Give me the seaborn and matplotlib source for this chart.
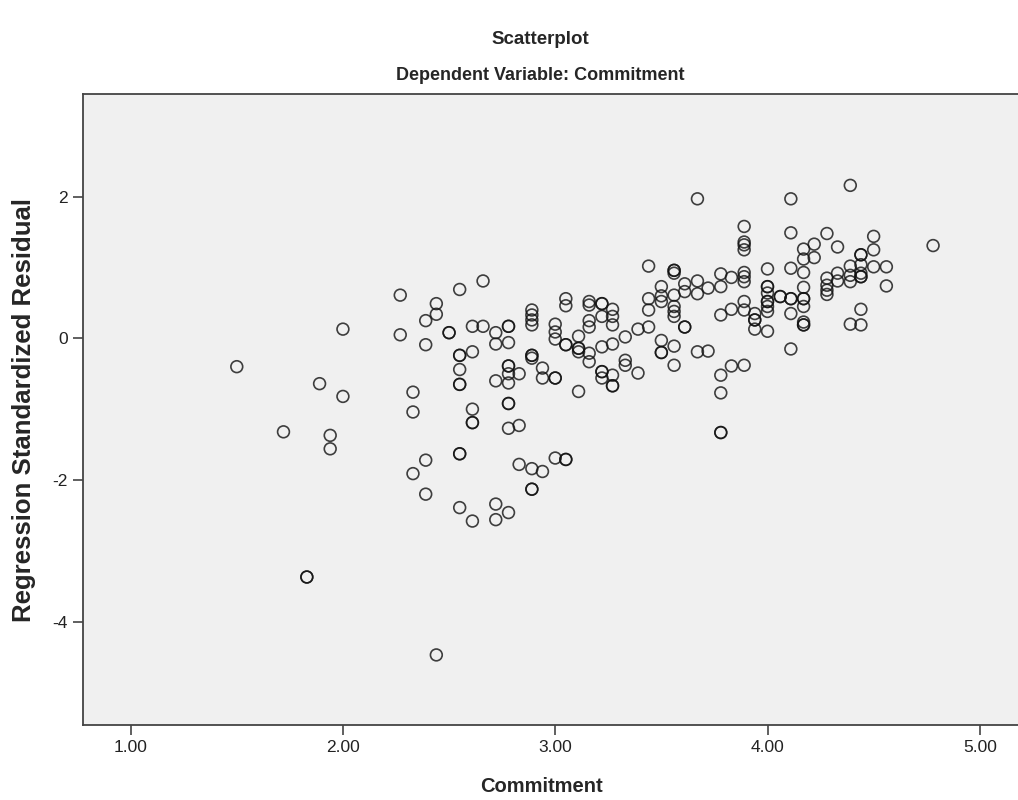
import pandas as pd
import matplotlib
matplotlib.use("Agg")
import matplotlib.pyplot as plt
import seaborn as sns

# Commitment scores (x) and regression standardized residuals (y)
commitment = [
    1.50, 1.72, 1.83, 1.83, 1.89, 1.94, 1.94, 2.00, 2.00,
    2.27, 2.27, 2.33, 2.33, 2.33, 2.39, 2.39, 2.39, 2.39,
    2.44, 2.44, 2.44, 2.50, 2.50,
    2.55, 2.55, 2.55, 2.55, 2.55, 2.55, 2.55, 2.55, 2.55,
    2.61, 2.61, 2.61, 2.61, 2.61, 2.61, 2.66, 2.66,
    2.72, 2.72, 2.72, 2.72, 2.72,
    2.78, 2.78, 2.78, 2.78, 2.78, 2.78, 2.78, 2.78, 2.78, 2.78, 2.78,
    2.83, 2.83, 2.83,
    2.89, 2.89, 2.89, 2.89, 2.89, 2.89, 2.89, 2.89, 2.89, 2.89,
    2.94, 2.94, 2.94,
    3.00, 3.00, 3.00, 3.00, 3.00, 3.00,
    3.05, 3.05, 3.05, 3.05, 3.05, 3.05,
    3.11, 3.11, 3.11, 3.11, 3.11,
    3.16, 3.16, 3.16, 3.16, 3.16, 3.16,
    3.22, 3.22, 3.22, 3.22, 3.22, 3.22, 3.22,
    3.27, 3.27, 3.27, 3.27, 3.27, 3.27, 3.27,
    3.33, 3.33, 3.33, 3.39, 3.39,
    3.44, 3.44, 3.44, 3.44,
    3.50, 3.50, 3.50, 3.50, 3.50, 3.50,
    3.56, 3.56, 3.56, 3.56, 3.56, 3.56, 3.56, 3.56, 3.56,
    3.61, 3.61, 3.61, 3.61,
    3.67, 3.67, 3.67, 3.67, 3.72, 3.72,
    3.78, 3.78, 3.78, 3.78, 3.78, 3.78, 3.78,
    3.83, 3.83, 3.83,
    3.89, 3.89, 3.89, 3.89, 3.89, 3.89, 3.89, 3.89, 3.89, 3.89,
    3.94, 3.94, 3.94, 3.94,
    4.00, 4.00, 4.00, 4.00, 4.00, 4.00, 4.00, 4.00, 4.00,
    4.06, 4.06,
    4.11, 4.11, 4.11, 4.11, 4.11, 4.11, 4.11,
    4.17, 4.17, 4.17, 4.17, 4.17, 4.17, 4.17, 4.17, 4.17, 4.17,
    4.22, 4.22,
    4.28, 4.28, 4.28, 4.28, 4.28,
    4.33, 4.33, 4.33,
    4.39, 4.39, 4.39, 4.39, 4.39,
    4.44, 4.44, 4.44, 4.44, 4.44, 4.44, 4.44, 4.44,
    4.50, 4.50, 4.50, 4.56, 4.56, 4.78,
]
residual = [
    -0.40, -1.32, -3.37, -3.37, -0.64, -1.37, -1.56, 0.13, -0.82,
    0.61, 0.05, -0.76, -1.04, -1.91, 0.25, -0.09, -1.72, -2.20,
    0.49, 0.34, -4.47, 0.08, 0.08,
    0.69, -0.24, -0.24, -0.44, -0.65, -0.65, -1.63, -1.63, -2.39,
    0.17, -0.19, -1.00, -1.19, -1.19, -2.58, 0.81, 0.17,
    0.08, -0.08, -0.60, -2.34, -2.56,
    0.17, 0.17, -0.06, -0.39, -0.39, -0.50, -0.63, -0.92, -0.92, -1.27, -2.46,
    -0.50, -1.23, -1.78,
    0.40, 0.33, 0.26, 0.19, -0.24, -0.24, -0.28, -1.84, -2.13, -2.13,
    -0.42, -0.56, -1.88,
    0.20, 0.09, -0.01, -0.56, -0.56, -1.69,
    0.56, 0.46, -0.09, -0.09, -1.71, -1.71,
    0.03, -0.14, -0.14, -0.19, -0.75,
    0.52, 0.47, 0.25, 0.16, -0.21, -0.33,
    0.49, 0.49, 0.31, -0.12, -0.47, -0.47, -0.56,
    0.41, 0.31, 0.19, -0.08, -0.52, -0.67, -0.67,
    0.02, -0.31, -0.38, 0.13, -0.49,
    1.02, 0.56, 0.40, 0.16,
    0.73, 0.60, 0.52, -0.03, -0.20, -0.20,
    0.96, 0.96, 0.92, 0.61, 0.45, 0.38, 0.31, -0.11, -0.38,
    0.77, 0.66, 0.16, 0.16,
    1.97, 0.81, 0.63, -0.19, 0.71, -0.18,
    0.91, 0.73, 0.33, -0.52, -0.77, -1.33, -1.33,
    0.86, 0.41, -0.39,
    1.58, 1.36, 1.32, 1.25, 0.93, 0.87, 0.80, 0.52, 0.40, -0.38,
    0.35, 0.26, 0.26, 0.13,
    0.98, 0.73, 0.73, 0.64, 0.52, 0.52, 0.45, 0.38, 0.10,
    0.59, 0.59,
    1.97, 1.49, 0.99, 0.56, 0.56, 0.35, -0.15,
    1.26, 1.12, 0.93, 0.72, 0.56, 0.56, 0.45, 0.23, 0.19, 0.19,
    1.33, 1.14,
    1.48, 0.85, 0.75, 0.68, 0.62,
    1.29, 0.92, 0.81,
    2.16, 1.02, 0.89, 0.80, 0.20,
    1.18, 1.18, 1.04, 0.92, 0.87, 0.87, 0.41, 0.19,
    1.44, 1.25, 1.01, 1.01, 0.74, 1.31,
]

x_ticks = [1.0, 2.0, 3.0, 4.0, 5.0]
y_ticks = [-4, -2, 0, 2]

df = pd.DataFrame({"Commitment": commitment, "Residual": residual})

sns.set_style("ticks", {"axes.facecolor": "#F0F0F0", "axes.edgecolor": "#444444"})
plt.rcParams["font.family"] = ["Liberation Sans", "DejaVu Sans"]

fig = plt.figure(figsize=(10.18, 8.0), dpi=100)
ax = fig.add_axes([0.0812, 0.0937, 0.9188, 0.7888])

sns.scatterplot(data=df, x="Commitment", y="Residual", ax=ax,
                s=72, marker="o", facecolor="none", edgecolor="#111111",
                linewidth=1.2, alpha=0.8)

ax.set_xlim(0.774, 5.18)
ax.set_ylim(-5.46, 3.45)
ax.set_xticks(x_ticks)
ax.set_xticklabels([f"{v:.2f}" for v in x_ticks])
ax.set_yticks(y_ticks)
ax.set_yticklabels([str(v) for v in y_ticks])
ax.tick_params(axis="both", length=7, width=1.2, color="#444444",
               labelsize=12.5, labelcolor="#222222")

for side in ["left", "bottom", "top"]:
    ax.spines[side].set_linewidth(1.3)
ax.spines["right"].set_visible(False)

ax.set_xlabel("Commitment", fontsize=14.5, fontweight="bold", va="center")
ax.xaxis.set_label_coords(0.49, -0.0967)
ax.set_ylabel("Regression Standardized Residual", fontsize=18.5,
              fontweight="bold", va="center")
ax.yaxis.set_label_coords(-0.0628, 0.5)

fig.text(0.531, 0.950, "Scatterplot", ha="center", va="center",
         fontsize=13.5, fontweight="bold")
fig.text(0.531, 0.905, "Dependent Variable: Commitment", ha="center",
         va="center", fontsize=13, fontweight="bold")

fig.savefig("out.png", dpi=100)
